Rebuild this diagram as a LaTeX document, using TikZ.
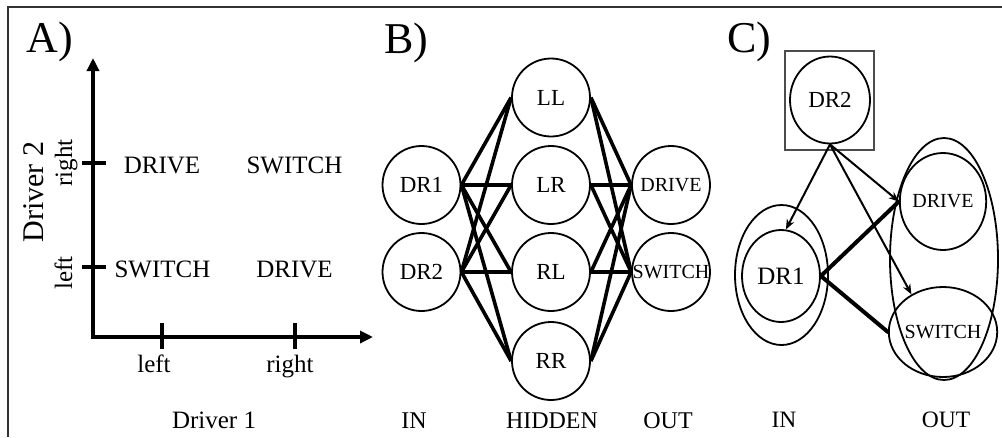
\documentclass[tikz,border=0pt]{standalone}
\usepackage{fontspec}
\setmainfont{Liberation Serif}
\usetikzlibrary{arrows.meta,shapes.geometric}

\begin{document}
\begin{tikzpicture}[x=1pt,y=-1pt,
  fsz/.style={font=\fontsize{#1}{#1}\selectfont},
  txt/.style={anchor=base,inner sep=0pt,fsz=#1},
  panel/.style={txt=44},
  axis/.style={line width=4pt,line join=miter,
    {Triangle[length=13pt,width=12pt]}-{Triangle[length=13pt,width=12pt]}},
  tickmark/.style={line width=4pt},
  bnode/.style={circle,draw,line width=1.8pt,minimum size=78pt,inner sep=0pt,fsz=#1},
  bnode/.default=23,
  bedge/.style={line width=3.6pt},
  cnode/.style={ellipse,draw,line width=1.8pt,inner sep=0pt},
  carrow/.style={line width=2pt,-{Stealth[length=10pt,width=8pt,inset=3pt]}},
  cthick/.style={line width=4pt,line cap=round}]

\useasboundingbox (0,0) rectangle (1002,437);

% outer frame (left and top edges)
\draw[line width=2pt,black!80] (8,437) -- (8,6.5) -- (1002,6.5);

% ---------------- A) response table ----------------
\node[panel] (la) at (49.5,52) {A)};
\coordinate (ytip) at (93,58);
\coordinate (orig) at (93,337);
\coordinate (xtip) at (373,337);
\draw[axis] (ytip) -- (orig) -- (xtip);
\draw[tickmark] (82,163) -- (106,163);
\draw[tickmark] (82,267) -- (106,267);
\draw[tickmark] (162,323) -- (162,349);
\draw[tickmark] (295,323) -- (295,349);

\node[txt=25] (xl) at (154,372) {left};
\node[txt=25] (xr) at (290,372) {right};
\node[txt=25] (xlab) at (214,428) {Driver 1};
\node[txt=25,rotate=90] (yr) at (72,163) {right};
\node[txt=25,rotate=90] (yl) at (72,273) {left};
\node[txt=30,rotate=90] (ylab) at (43,192) {Driver 2};

\node[txt=25] (t11) at (162,173) {DRIVE};
\node[txt=25] (t12) at (294.5,173) {SWITCH};
\node[txt=25] (t21) at (162.5,277) {SWITCH};
\node[txt=25] (t22) at (294.5,277) {DRIVE};

% ---------------- B) network ----------------
\node[panel] (lb) at (406,53) {B)};
\node[bnode] (bdr1) at (421.5,185) {DR1};
\node[bnode] (bdr2) at (421.5,272) {DR2};
\node[bnode] (bll) at (551,97.5) {LL};
\node[bnode] (blr) at (551,185) {LR};
\node[bnode] (brl) at (551,272) {RL};
\node[bnode] (brr) at (551,361) {RR};
\node[bnode=20] (bdrive) at (671,185) {DRIVE};
\node[bnode=20] (bswitch) at (671,272) {SWITCH};

\foreach \i in {bdr1,bdr2}
  \foreach \h in {bll,blr,brl,brr}
    \draw[bedge] (\i.east) -- (\h.west);
\foreach \h in {bll,blr,brl,brr}
  \foreach \o in {bdrive,bswitch}
    \draw[bedge] (\h.east) -- (\o.west);

\node[txt=24] (bin) at (414,428) {IN};
\node[txt=24] (bhid) at (552,428) {HIDDEN};
\node[txt=24] (bout) at (668,428) {OUT};

% ---------------- C) graph ----------------
\node[panel] (lc) at (749,52) {C)};
\node[draw=black!70,line width=1.3pt,minimum width=89pt,minimum height=99pt,inner sep=0pt]
  (cbox) at (829.5,100.5) {};
\node[cnode,minimum width=80pt,minimum height=87pt,fsz=23] (cdr2) at (830,100) {DR2};

\node[cnode,minimum width=93pt,minimum height=140pt] (cin) at (781.5,275) {};
\node[cnode,minimum width=78pt,minimum height=92pt,fsz=25] (cdr1) at (781,276) {DR1};

\node[cnode,minimum width=108pt,minimum height=242pt] (cout) at (944,259) {};
\node[cnode,minimum width=80pt,minimum height=97pt,fsz=20] (cdrive) at (943,201.5) {DRIVE};
\node[cnode,minimum width=80pt,minimum height=90pt,fsz=20] (cswitch) at (943,332) {SWITCH};

\draw[carrow] (cdr2.south) -- (cdr1.84);
\draw[carrow] (cdr2.south) -- (cdrive.west);
\draw[carrow] (cdr2.south) -- (cswitch.130);
\draw[cthick] (cdr1.east) -- (cdrive.west);
\draw[cthick] (cdr1.east) -- (cswitch.west);

\node[txt=23.5] (cinl) at (784,427) {IN};
\node[txt=23.5] (coutl) at (946,427) {OUT};
\end{tikzpicture}
\end{document}
